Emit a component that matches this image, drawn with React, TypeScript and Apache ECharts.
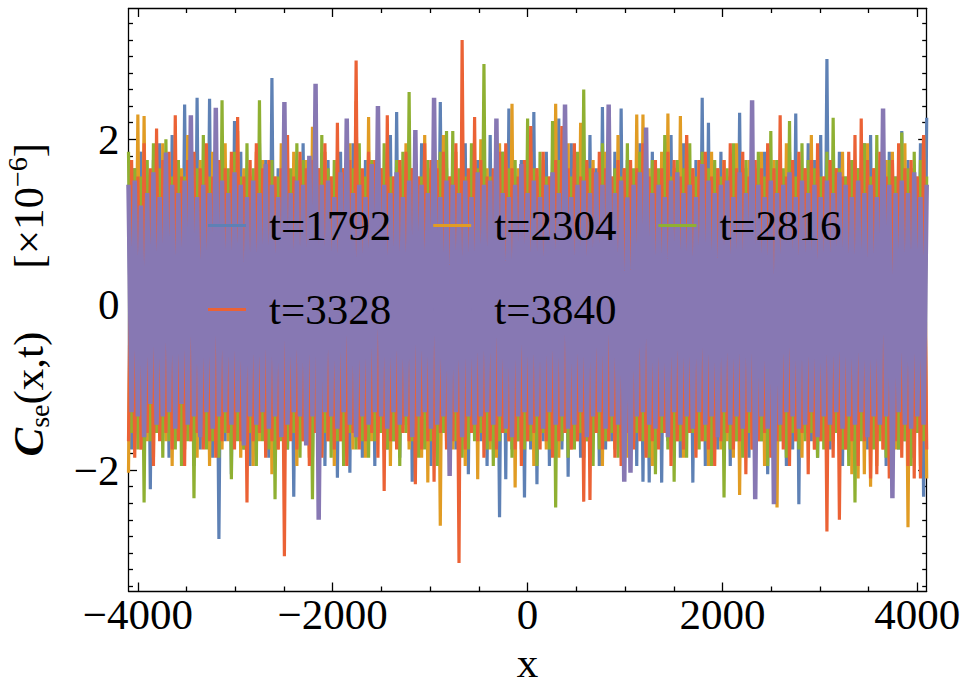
import React, { useEffect, useRef } from "react";
import * as echarts from "echarts";

// x grid of the sampled points (x = X_START + i * X_STEP)
const X_START = -4096;
const X_STEP = 32;

const SERIES_NAMES = ["t=1792", "t=2304", "t=2816", "t=3328", "t=3840"];
const COLORS = ["#5E81B5", "#E19C24", "#8FB032", "#EB6235", "#8778B3"];
const LINE_WIDTHS = [3.2, 3.2, 3.2, 3.2, 4.5];

// values in units of 1e-6
const BLUE_1792 = [
  1.45,-1.75,1.65,-1.35,1.85,-1.65,1.55,-2.23,1.75,-1.55,1.95,-1.45,1.65,-1.85,2.05,-1.55,
  1.75,-1.65,2.42,-1.45,1.55,-1.95,2.5,-1.75,1.45,-1.55,2.49,-1.85,1.65,-2.83,1.75,-1.65,
  1.55,-2.05,2.22,-1.55,1.85,-1.75,1.65,-1.95,1.45,-1.65,1.95,-1.55,1.75,-1.85,2.74,-1.65,
  1.65,-1.55,2.05,-1.75,1.55,-2.32,1.75,-1.65,1.95,-1.45,1.65,-1.85,2.37,-1.55,1.45,-1.95,
  1.75,-1.65,1.55,-2.09,1.85,-1.75,1.65,-2.03,1.95,-1.55,1.45,-1.85,1.75,-1.65,1.55,-1.95,
  1.85,-1.55,1.65,-1.75,2.05,-1.65,2.33,-1.85,1.55,-1.45,1.75,-2.14,1.65,-1.75,1.95,-1.55,
  1.45,-1.95,1.75,-1.65,2.45,-1.55,1.65,-1.85,1.85,-1.75,1.55,-1.65,1.95,-2.05,1.65,-1.55,
  1.75,-1.65,1.55,-1.95,2.05,-1.55,1.65,-2.57,1.85,-2.11,2.37,-1.75,1.55,-1.65,1.75,-2.33,
  1.65,-1.75,2.33,-2.17,1.55,-1.65,1.85,-1.95,1.75,-1.55,2.25,-1.75,1.65,-2.08,1.95,-1.65,
  1.55,-1.85,1.75,-1.65,2.05,-1.55,1.65,-1.95,2.39,-1.75,1.55,-1.65,1.85,-1.55,2.37,-1.85,
  1.75,-1.65,1.55,-1.95,1.95,-2.14,1.65,-2.15,1.85,-1.55,1.45,-2.15,1.75,-1.65,2.05,-1.75,
  1.65,-1.85,1.95,-1.55,1.55,-2.15,1.75,-1.65,2.5,-1.95,2.2,-1.55,1.65,-1.75,1.85,-1.65,
  1.55,-1.95,1.75,-1.65,2.32,-1.55,1.65,-1.85,1.95,-1.75,1.55,-1.65,1.85,-2.05,1.65,-1.55,
  1.75,-1.65,1.55,-1.95,1.85,-1.75,2.31,-2.41,1.65,-1.55,1.95,-1.65,1.75,-1.85,2.05,-1.65,
  2.97,-1.75,1.65,-1.55,1.85,-1.95,1.55,-1.65,1.75,-1.85,1.65,-1.55,1.95,-1.75,2.05,-1.65,
  1.75,-1.55,1.65,-1.95,1.85,-1.65,1.55,-1.75,2.1,-1.65,1.75,-1.85,1.65,-1.55,1.95,-2.32,
  2.26,
];

const ORANGE_2304 = [
  -2.03,1.65,-1.55,2.3,-1.75,2.28,-1.65,1.55,-1.85,1.75,-1.45,1.95,-1.65,1.55,-1.95,1.75,
  -1.55,1.65,-1.75,2.05,-1.65,1.55,-1.85,1.75,-1.55,1.65,-1.95,1.85,-1.65,1.55,-1.75,1.95,
  -1.65,1.75,-1.55,2.1,-1.85,1.65,-1.75,1.55,-1.95,1.85,-1.65,1.75,-1.55,1.65,-2.05,1.55,
  -1.75,1.95,-1.65,1.65,-1.55,1.85,-1.95,1.55,-1.65,1.75,-1.85,2.15,-1.55,1.65,-1.75,1.85,
  -1.65,1.55,-1.95,1.75,-1.65,1.65,-1.55,1.95,-1.75,2.46,-1.65,1.55,-1.85,2.27,-1.65,1.75,
  -1.55,1.65,-1.75,1.85,-1.95,1.55,-1.65,1.75,-1.55,1.95,-1.75,1.65,-1.65,1.55,-1.85,2.05,
  -2.15,1.65,-1.55,1.75,-2.67,2.05,-1.65,1.55,-1.75,1.85,-1.65,1.65,-1.95,1.55,-1.55,1.75,
  -2.11,2.0,-1.65,1.65,-1.75,1.55,-1.85,1.95,-1.55,1.75,-1.65,2.43,-2.21,1.65,-1.75,1.55,
  -1.65,1.85,-1.95,1.65,-1.55,1.75,-1.75,1.55,-1.65,2.43,-1.85,1.65,-1.55,1.95,-1.75,1.65,
  -1.65,2.2,-1.85,1.55,-1.75,1.75,-1.55,1.65,-1.95,1.85,-1.65,1.55,-1.75,2.05,-1.55,1.65,
  -1.85,1.75,-1.65,2.3,-1.55,2.3,-1.75,1.65,-1.95,1.55,-1.65,1.85,-1.55,2.31,-1.75,1.65,
  -1.65,2.28,-1.85,2.05,-1.55,1.65,-1.75,1.75,-1.65,1.55,-1.95,1.85,-1.55,1.65,-1.75,1.75,
  -1.65,1.55,-1.85,1.95,-2.3,1.65,-1.55,1.75,-1.75,1.65,-1.65,1.85,-1.95,1.55,-1.65,1.75,
  -2.45,1.65,-1.55,1.95,-1.75,1.55,-1.65,1.75,-1.85,1.65,-1.55,2.05,-1.75,1.65,-1.65,1.55,
  -1.95,1.75,-1.65,1.65,-1.55,1.85,-1.75,1.55,-2.05,1.75,-2.1,1.65,-2.05,1.95,-2.2,1.65,
  -1.95,1.55,-1.75,1.75,-1.65,1.85,-1.75,1.65,-1.55,1.95,-2.69,1.65,-1.75,1.55,-1.95,2.05,
  -2.1,
];

const GREEN_2816 = [
  1.85,-1.55,1.65,-1.75,1.55,-2.39,1.75,-1.65,1.95,-1.55,1.65,-1.85,2.0,-1.65,1.55,-1.75,
  1.75,-1.95,1.55,-1.65,1.85,-2.34,1.65,-1.55,2.05,-1.75,1.55,-1.65,1.75,-1.85,2.47,-1.55,
  1.65,-2.11,1.85,-1.65,1.55,-1.75,1.95,-1.55,1.65,-1.95,2.47,-1.65,1.55,-1.75,1.75,-2.35,
  1.55,-1.65,1.85,-1.75,1.65,-1.55,1.95,-1.85,1.75,-1.65,1.55,-2.35,1.65,-1.75,2.05,-1.55,
  1.65,-1.85,1.75,-1.65,1.55,-1.95,1.85,-1.55,1.65,-1.75,1.95,-1.65,1.55,-1.85,1.75,-1.65,
  1.65,-1.55,1.95,-1.75,1.55,-1.65,1.75,-1.95,1.85,-1.55,2.57,-1.65,1.65,-1.85,1.55,-1.75,
  1.75,-1.65,1.55,-1.95,1.85,-1.55,2.1,-1.75,2.1,-1.65,1.65,-1.85,1.55,-1.75,1.95,-1.65,
  1.65,-1.55,2.91,-1.75,1.55,-1.95,1.75,-1.65,1.85,-1.55,1.65,-1.85,1.75,-1.65,1.55,-1.75,
  2.25,-1.65,1.65,-1.95,1.85,-1.55,1.55,-1.75,2.22,-2.45,1.75,-1.65,1.65,-1.85,1.55,-1.75,
  1.85,-1.55,2.6,-1.65,1.65,-1.95,1.55,-1.75,1.95,-1.65,1.75,-1.55,1.65,-1.85,1.55,-1.65,
  1.95,-1.75,1.65,-1.55,1.85,-1.65,1.55,-1.85,1.75,-2.05,1.65,-1.55,2.05,-1.75,1.55,-2.14,
  1.75,-1.65,1.65,-1.85,1.95,-1.55,1.55,-1.75,1.85,-1.65,1.65,-1.95,1.75,-1.55,1.55,-2.33,
  1.65,-1.75,1.95,-1.65,1.55,-1.85,1.75,-1.55,1.65,-1.75,1.85,-1.65,1.55,-1.95,2.1,-1.55,
  1.75,-1.65,1.65,-1.85,2.22,-1.55,1.55,-1.75,1.95,-1.65,1.75,-1.55,1.65,-1.85,1.55,-1.75,
  1.85,-1.65,2.26,-1.55,1.65,-1.75,1.55,-1.95,1.75,-2.39,1.65,-1.65,1.95,-1.55,1.55,-1.75,
  2.05,-1.65,1.65,-1.85,1.75,-1.55,1.55,-1.75,2.08,-1.65,1.65,-1.95,1.85,-1.55,1.75,-1.65,
  1.55,
];

const RED_3328 = [
  -1.65,1.75,-1.85,1.55,-1.75,1.95,-1.55,1.65,-1.95,2.13,-1.65,1.75,-1.55,1.85,-1.75,2.29,
  -1.65,1.55,-1.95,1.75,-1.65,1.85,-1.55,1.65,-1.75,1.95,-1.65,1.55,-1.85,1.75,-1.65,1.65,
  -1.55,1.85,-1.75,2.27,-1.65,1.55,-2.39,1.75,-1.65,1.95,-1.55,1.65,-1.85,1.75,-1.65,1.55,
  -1.75,1.65,-3.04,2.05,-1.65,1.55,-1.75,1.85,-1.65,1.65,-1.95,1.75,-1.55,1.65,-1.85,1.95,
  -1.65,1.55,-1.75,2.2,-1.65,1.65,-1.95,1.75,-1.55,2.95,-1.75,1.65,-1.65,1.85,-1.55,1.75,
  -1.85,1.65,-2.25,2.29,-1.65,1.55,-1.75,1.75,-1.55,1.85,-1.65,1.65,-2.17,1.55,-1.75,1.95,
  -1.65,1.75,-2.14,1.65,-1.55,1.85,-1.75,1.55,-1.65,1.95,-3.12,3.2,-1.75,1.65,-1.55,2.27,
  -1.65,1.75,-1.85,1.55,-1.65,1.65,-1.75,1.85,-1.55,1.95,-1.65,1.65,-1.75,1.55,-1.95,1.75,
  -1.65,2.16,-1.55,1.65,-1.75,1.85,-1.65,1.55,-1.85,1.75,-1.65,2.16,-1.55,1.65,-1.75,1.95,
  -1.65,1.55,-2.38,1.75,-2.36,1.65,-1.55,1.85,-1.75,1.65,-1.65,1.55,-1.85,1.75,-1.95,1.65,
  -1.55,1.75,-1.75,1.65,-1.65,1.95,-1.85,1.55,-1.65,1.75,-1.75,1.65,-1.55,1.85,-1.95,1.75,
  -1.65,1.55,-1.75,2.05,-1.55,1.65,-1.85,1.75,-1.65,1.85,-1.75,1.55,-1.95,1.65,-1.65,1.75,
  -1.55,1.95,-1.75,1.65,-1.65,1.85,-2.05,1.55,-1.75,1.75,-1.65,1.65,-1.55,1.95,-1.85,1.65,
  -1.65,2.29,-1.75,1.55,-1.95,1.75,-1.65,1.85,-1.55,1.65,-2.05,1.75,-1.75,1.95,-1.65,1.55,
  -2.74,1.75,-1.85,1.65,-2.6,1.55,-1.75,1.85,-1.65,2.05,-1.95,2.25,-1.65,1.75,-2.1,1.65,
  -2.05,1.85,-1.75,1.55,-2.1,1.75,-1.65,1.95,-1.85,1.65,-1.95,1.75,-2.1,1.55,-2.1,2.05,
  -1.75,
];

const PURPLE_3840 = [
  1.45,-1.3,1.5,-1.35,1.2,-1.6,1.35,-1.2,1.6,-1.45,1.3,-1.35,1.84,-1.3,1.45,-1.5,
  1.35,-1.2,1.5,-1.45,2.29,-1.35,1.3,-1.6,1.45,-1.3,1.35,-1.5,2.38,-1.35,1.5,-1.3,
  1.35,-1.45,1.6,-1.3,1.45,-1.7,1.3,-1.35,1.5,-1.45,1.35,-1.3,1.7,-1.5,1.45,-1.35,
  1.3,-1.6,2.45,-1.45,1.35,-1.3,1.5,-1.35,1.45,-1.7,1.8,-1.35,2.67,-2.6,1.45,-1.3,
  1.5,-1.35,1.3,-1.5,1.6,-1.3,2.25,-1.45,1.35,-1.6,1.45,-1.35,1.3,-1.45,1.7,-1.3,
  2.4,-1.35,1.45,-1.5,1.35,-1.3,1.6,-1.45,1.3,-1.35,1.5,-1.6,2.11,-1.35,1.45,-1.3,
  1.35,-1.5,2.5,-1.45,1.3,-1.35,1.5,-2.07,1.45,-1.3,1.35,-1.6,1.5,-1.35,1.3,-1.45,
  1.6,-1.35,1.45,-1.3,1.5,-1.45,2.25,-1.35,1.35,-1.5,1.3,-1.6,1.45,-1.35,1.7,-1.3,
  1.35,-1.45,1.5,-1.35,1.3,-1.5,1.45,-1.3,1.6,-1.45,1.35,-1.35,2.42,-1.5,1.3,-1.45,
  1.45,-1.3,1.5,-1.6,1.35,-1.35,1.6,-1.3,1.45,-1.5,2.42,-1.35,1.35,-1.45,1.5,-2.14,
  1.3,-2.03,1.45,-1.35,1.6,-1.3,2.14,-1.45,1.35,-1.5,1.45,-1.35,1.3,-1.6,1.5,-1.3,
  1.6,-1.45,1.35,-1.35,1.45,-1.5,1.3,-1.3,1.7,-1.45,1.5,-1.35,1.35,-1.6,1.45,-1.3,
  1.5,-1.45,1.3,-1.35,1.6,-1.5,1.35,-1.3,2.47,-2.35,1.45,-1.35,1.3,-1.5,1.5,-2.41,
  1.35,-1.45,1.45,-1.3,1.6,-1.35,1.3,-1.5,1.5,-1.45,1.35,-1.3,1.45,-1.6,1.3,-1.35,
  1.5,-1.45,1.35,-1.3,1.6,-1.5,1.45,-1.35,1.3,-1.45,1.5,-1.3,1.35,-1.6,1.45,-1.35,
  1.3,-1.45,2.37,-1.35,1.45,-2.34,1.35,-1.3,1.5,-1.45,1.35,-1.5,1.6,-1.35,1.3,-1.45,
  1.45,
];

const SERIES_VALUES = [BLUE_1792, ORANGE_2304, GREEN_2816, RED_3328, PURPLE_3840];

// axis ranges and ticks
const X_MIN = -4096;
const X_MAX = 4096;
const Y_MIN = -3.46;
const Y_MAX = 3.58;
const X_MAJOR = [-4000, -2000, 0, 2000, 4000];
const X_MINOR = [-3500, -3000, -2500, -1500, -1000, -500, 500, 1000, 1500, 2500, 3000, 3500];
const Y_LABELS = [-2, 0, 2];
const Y_MINOR = [
  -3.4, -3.2, -3.0, -2.8, -2.6, -2.4, -2.2, -1.8, -1.6, -1.4, -1.2, -1.0, -0.8, -0.6, -0.4, -0.2,
  0.2, 0.4, 0.6, 0.8, 1.0, 1.2, 1.4, 1.6, 1.8, 2.2, 2.4, 2.6, 2.8, 3.0, 3.2, 3.4,
];

const FONT = "Liberation Serif";
const AX = { color: "#000", width: 1.3 };

const fmt = (v: number) => (v < 0 ? "\u2212" + String(-v) : String(v));

function xAxisDef(position: string, major: boolean, withLine: boolean, withLabels: boolean, extra: any = {}) {
  return {
    type: "value",
    position,
    min: X_MIN,
    max: X_MAX,
    splitLine: { show: false },
    axisLine: { show: withLine, onZero: false, lineStyle: AX },
    axisTick: {
      show: true,
      inside: true,
      length: major ? 8.5 : 4.5,
      customValues: major ? X_MAJOR : X_MINOR,
      lineStyle: AX,
    },
    axisLabel: withLabels
      ? {
          show: true,
          customValues: X_MAJOR,
          formatter: fmt,
          margin: 2,
          color: "#000",
          fontSize: 43,
          fontFamily: FONT,
        }
      : { show: false },
    ...extra,
  };
}

function yAxisDef(position: string, major: boolean, withLine: boolean, withLabels: boolean, extra: any = {}) {
  return {
    type: "value",
    position,
    min: Y_MIN,
    max: Y_MAX,
    splitLine: { show: false },
    axisLine: { show: withLine, onZero: false, lineStyle: AX },
    axisTick: {
      show: true,
      inside: true,
      length: major ? 8.5 : 4.5,
      customValues: major ? Y_LABELS : Y_MINOR,
      lineStyle: AX,
    },
    axisLabel: withLabels
      ? {
          show: true,
          customValues: Y_LABELS,
          formatter: fmt,
          margin: 9,
          color: "#000",
          fontSize: 43,
          fontFamily: FONT,
        }
      : { show: false },
    ...extra,
  };
}

export default function App() {
  const ref = useRef<HTMLDivElement>(null);

  useEffect(() => {
    if (!ref.current) return;
    const chart = echarts.init(ref.current, null, { renderer: "svg" });

    const legendText = {
      fontSize: 43,
      fontFamily: FONT,
      color: "#000",
      padding: [0, 0, 0, 18],
    };
    const legendBase = {
      left: 208,
      itemWidth: 38,
      itemHeight: 3,
      itemGap: 42,
      icon: "rect",
      padding: 0,
      selectedMode: false,
      textStyle: legendText,
    };

    const option: any = {
      animation: false,
      color: COLORS,
      textStyle: { fontFamily: FONT },
      grid: {
        left: 128.5,
        right: 41.3,
        top: 8.5,
        bottom: 97,
        containLabel: false,
        outerBoundsMode: "none",
      },
      legend: [
        { ...legendBase, top: 204, data: SERIES_NAMES.slice(0, 3) },
        { ...legendBase, top: 288, data: SERIES_NAMES.slice(3) },
      ],
      xAxis: [
        xAxisDef("bottom", true, true, true, {
          name: "x",
          nameLocation: "middle",
          nameGap: 56,
          nameTextStyle: { fontSize: 43, fontFamily: FONT, color: "#000", lineHeight: 30 },
        }),
        xAxisDef("bottom", false, false, false),
        xAxisDef("top", true, true, false),
        xAxisDef("top", false, false, false),
      ],
      yAxis: [
        yAxisDef("left", true, true, true, {
          name: "{c|C}{s|se}{n|(x,t)}{g| }{n|[\u00d710}{e|\u22126}{n|]}",
          nameLocation: "middle",
          nameRotate: 90,
          nameGap: 75,
          nameTextStyle: {
            color: "#000",
            fontFamily: FONT,
            fontSize: 43,
            rich: {
              c: { fontSize: 43, fontFamily: FONT, fontStyle: "italic", fontWeight: "bold", lineHeight: 50, color: "#000" },
              s: { fontSize: 28, fontFamily: FONT, lineHeight: 32, verticalAlign: "bottom", color: "#000" },
              n: { fontSize: 43, fontFamily: FONT, lineHeight: 50, color: "#000" },
              g: { fontSize: 43, fontFamily: FONT, lineHeight: 50, width: 63 },
              e: { fontSize: 28, fontFamily: FONT, lineHeight: 14, verticalAlign: "top", color: "#000" },
            },
          },
        }),
        yAxisDef("left", false, false, false),
        yAxisDef("right", true, true, false),
        yAxisDef("right", false, false, false),
      ],
      series: SERIES_NAMES.map((name, k) => ({
        name,
        type: "line",
        xAxisIndex: 0,
        yAxisIndex: 0,
        showSymbol: false,
        symbol: "none",
        silent: true,
        clip: true,
        lineStyle: { width: LINE_WIDTHS[k], color: COLORS[k], join: "bevel" },
        itemStyle: { color: COLORS[k] },
        data: SERIES_VALUES[k].map((v, i) => [X_START + i * X_STEP, v]),
      })),
    };

    chart.setOption(option);
    return () => chart.dispose();
  }, []);

  return (
    <div
      ref={ref}
      style={{ position: "fixed", left: 0, top: 0, width: 968, height: 688, background: "#fff" }}
    />
  );
}
